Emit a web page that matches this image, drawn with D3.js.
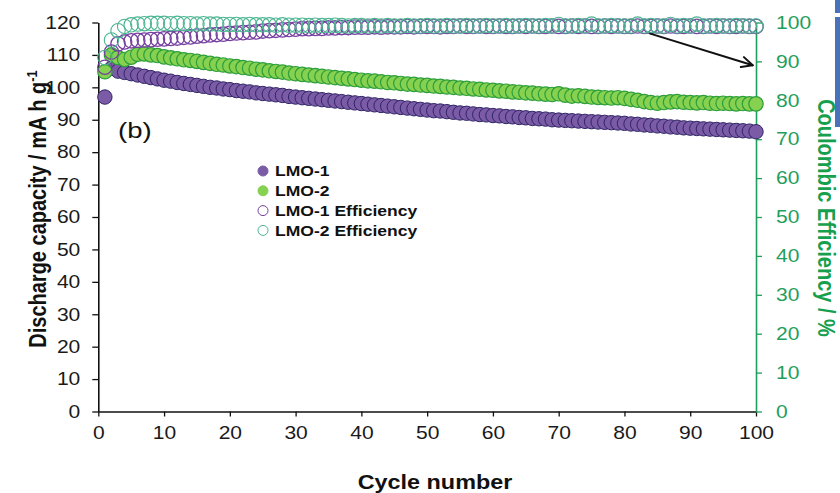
<!DOCTYPE html>
<html>
<head>
<meta charset="utf-8">
<script src="https://cdn.jsdelivr.net/npm/d3@7/dist/d3.min.js"></script>
<style>
  html, body { margin: 0; padding: 0; background: #fff; overflow: hidden; }
  svg { display: block; font-family: "Liberation Sans", Arial, sans-serif; }
</style>
</head>
<body>
<div id="chart"></div>
<script>
// discharge capacity, mA h g-1, cycles 1..100
const capLMO1 = [
  97.0, 105.9, 105.0, 104.6, 104.2, 103.8, 103.4, 103.0, 102.6, 102.2,
  101.9, 101.5, 101.2, 100.9, 100.6, 100.3, 100.0, 99.8, 99.5, 99.3,
  99.0, 98.8, 98.6, 98.3, 98.1, 97.9, 97.7, 97.5, 97.2, 97.0,
  96.8, 96.6, 96.4, 96.2, 96.0, 95.8, 95.6, 95.4, 95.2, 95.0,
  94.8, 94.6, 94.4, 94.2, 94.0, 93.8, 93.6, 93.4, 93.2, 93.0,
  92.8, 92.7, 92.5, 92.3, 92.1, 92.0, 91.8, 91.6, 91.5, 91.3,
  91.2, 91.0, 90.9, 90.7, 90.6, 90.4, 90.3, 90.2, 90.0, 89.9,
  89.8, 89.7, 89.6, 89.5, 89.4, 89.3, 89.2, 89.1, 89.0, 88.9,
  88.7, 88.6, 88.4, 88.3, 88.1, 88.0, 87.8, 87.7, 87.5, 87.4,
  87.3, 87.2, 87.1, 87.0, 86.9, 86.8, 86.7, 86.6, 86.5, 86.3
];
const capLMO2 = [
  104.8, 110.0, 109.2, 108.6, 109.3, 110.2, 110.3, 110.0, 109.8, 109.4,
  109.1, 108.8, 108.5, 108.3, 108.0, 107.7, 107.4, 107.1, 106.9, 106.6,
  106.4, 106.1, 105.9, 105.6, 105.4, 105.1, 104.9, 104.7, 104.4, 104.2,
  104.0, 103.8, 103.6, 103.4, 103.2, 103.0, 102.8, 102.6, 102.4, 102.2,
  102.0, 101.9, 101.7, 101.5, 101.4, 101.2, 101.0, 100.9, 100.7, 100.6,
  100.4, 100.3, 100.1, 100.0, 99.8, 99.7, 99.5, 99.4, 99.2, 99.1,
  98.9, 98.8, 98.6, 98.5, 98.3, 98.2, 98.0, 97.9, 97.8, 98.0,
  97.6, 97.3, 97.4, 97.2, 97.0, 96.9, 96.8, 96.7, 96.8, 96.6,
  96.3, 96.0, 95.6, 95.3, 95.1, 95.3, 95.5, 95.6, 95.4, 95.3,
  95.2, 95.3, 95.1, 95.0, 95.1, 95.0, 94.9, 95.0, 94.9, 94.9
];
// coulombic efficiency, %
const effLMO1 = [
  88.5, 92.4, 94.5, 95.0, 95.3, 95.4, 95.5, 95.6, 95.7, 95.8,
  95.9, 96.0, 96.2, 96.3, 96.5, 96.6, 96.8, 96.9, 97.0, 97.2,
  97.3, 97.4, 97.5, 97.6, 97.8, 97.9, 98.0, 98.1, 98.2, 98.3,
  98.4, 98.4, 98.5, 98.5, 98.6, 98.6, 98.7, 98.7, 98.8, 98.8,
  98.8, 98.9, 98.8, 98.9, 98.9, 98.9, 99.0, 98.9, 99.0, 99.0,
  99.0, 98.9, 99.0, 99.0, 99.1, 99.0, 99.0, 99.1, 99.0, 99.0,
  99.1, 99.0, 99.0, 99.1, 99.0, 99.1, 99.0, 99.0, 99.1, 99.0,
  99.0, 99.1, 99.0, 99.1, 99.0, 99.0, 99.1, 99.0, 99.1, 99.0,
  99.0, 99.1, 99.0, 99.0, 99.1, 99.0, 99.1, 99.0, 99.0, 99.1,
  99.0, 99.0, 99.1, 99.0, 99.1, 99.0, 99.0, 99.1, 99.0, 99.0
];
const effLMO2 = [
  91.0, 95.5, 97.9, 99.0, 99.4, 99.6, 99.7, 99.8, 99.8, 99.8,
  99.7, 99.8, 99.7, 99.7, 99.6, 99.7, 99.6, 99.6, 99.5, 99.5,
  99.5, 99.4, 99.5, 99.4, 99.4, 99.4, 99.3, 99.4, 99.3, 99.3,
  99.3, 99.2, 99.3, 99.2, 99.2, 99.3, 99.2, 99.1, 99.2, 99.2,
  99.1, 99.2, 99.1, 99.2, 99.1, 99.1, 99.2, 99.1, 99.1, 99.2,
  99.1, 99.1, 99.2, 99.1, 99.1, 99.2, 99.1, 99.1, 99.2, 99.1,
  99.1, 99.2, 99.1, 99.1, 99.2, 99.1, 99.1, 99.2, 99.1, 99.5,
  99.1, 99.1, 99.2, 99.1, 99.6, 99.1, 99.1, 99.2, 99.1, 99.1,
  99.1, 99.6, 99.1, 99.2, 99.1, 99.1, 99.5, 99.1, 99.2, 99.1,
  99.6, 99.1, 99.1, 99.2, 99.1, 99.1, 99.2, 99.1, 99.1, 99.1
];
const cycles = d3.range(1, capLMO1.length + 1);
const xTicks = [0, 10, 20, 30, 40, 50, 60, 70, 80, 90, 100];
const yTicks = [0, 10, 20, 30, 40, 50, 60, 70, 80, 90, 100, 110, 120];
const y2Ticks = [0, 10, 20, 30, 40, 50, 60, 70, 80, 90, 100];
const legendLabels = ['LMO-1', 'LMO-2', 'LMO-1 Efficiency', 'LMO-2 Efficiency'];

const W = 840, H = 493;
const m = { t: 22.5, r: 84, b: 81.5, l: 98.3 };
const innerW = W - m.l - m.r;
const innerH = H - m.t - m.b;
const SX = 1.17; // the source picture is stretched horizontally
const green = '#1f9e5c';

const svg = d3.select('#chart').append('svg').attr('width', W).attr('height', H);

// slide edge artefact at top right
svg.append('rect').attr('x', 835).attr('y', 0).attr('width', 5).attr('height', 13)
  .style('fill', '#4a72b8');
svg.append('rect').attr('x', 835).attr('y', 17).attr('width', 5).attr('height', 110)
  .style('fill', '#4a72b8');

const g = svg.append('g').attr('transform', `translate(${m.l},${m.t})`);

const x = d3.scaleLinear().domain([0, 100]).range([0, innerW]);
const y = d3.scaleLinear().domain([0, 120]).range([innerH, 0]);
const y2 = d3.scaleLinear().domain([0, 100]).range([innerH, 0]);

function stretch(sel, fill) {
  sel.selectAll('.tick text').each(function () {
    const t = d3.select(this);
    t.attr('x', (+t.attr('x') || 0) / SX).attr('transform', `scale(${SX},1)`)
      .attr('font-size', 18).attr('font-family', '"Liberation Sans", Arial, sans-serif')
      .attr('fill', fill);
  });
}

const gx = g.append('g').attr('transform', `translate(0,${innerH})`)
  .call(d3.axisBottom(x).tickValues(xTicks).tickSizeInner(5).tickSizeOuter(0).tickPadding(10));
const gy = g.append('g')
  .call(d3.axisLeft(y).tickValues(yTicks).tickSizeInner(6).tickSizeOuter(0).tickPadding(12));
const gy2 = g.append('g').attr('transform', `translate(${innerW},0)`)
  .call(d3.axisRight(y2).tickValues(y2Ticks).tickSizeInner(6).tickSizeOuter(0).tickPadding(14));

[gx, gy].forEach(a => {
  a.select('.domain').attr('stroke', '#111').attr('stroke-width', 1.6);
  a.selectAll('.tick line').attr('stroke', '#111').attr('stroke-width', 1.3);
  stretch(a, '#1a1a1a');
});
gy2.select('.domain').attr('stroke', green).attr('stroke-width', 1.6);
gy2.selectAll('.tick line').attr('stroke', green).attr('stroke-width', 1.3);
stretch(gy2, green);

// series, drawn in the same order as the source
const series = [
  { vals: capLMO1, sc: y, fill: '#7b5aa6', stroke: '#2f2566', sw: 1 },
  { vals: capLMO2, sc: y, fill: '#86d14f', stroke: '#2c9e3a', sw: 1.2 },
  { vals: effLMO1, sc: y2, fill: 'none', stroke: '#7640a0', sw: 1.3 },
  { vals: effLMO2, sc: y2, fill: 'none', stroke: '#4db592', sw: 1.1 }
];
series.forEach(s => {
  g.append('g').selectAll('circle')
    .data(cycles)
    .enter()
    .append('circle')
    .attr('cx', c => x(c))
    .attr('cy', c => s.sc(s.vals[c - 1]))
    .attr('r', 7.2)
    .attr('fill', s.fill)
    .attr('stroke', s.stroke)
    .attr('stroke-width', s.sw);
});

// arrow toward the efficiency axis
const a0 = [x(83.8), y2(97.2)], a1 = [x(99.5), y2(89.0)];
g.append('line').attr('x1', a0[0]).attr('y1', a0[1]).attr('x2', a1[0]).attr('y2', a1[1])
  .attr('stroke', '#111').attr('stroke-width', 2);
const ang = Math.atan2(a1[1] - a0[1], a1[0] - a0[0]);
[0.45, -0.45].forEach(d => {
  g.append('line').attr('x1', a1[0]).attr('y1', a1[1])
    .attr('x2', a1[0] - 12 * Math.cos(ang + d)).attr('y2', a1[1] - 12 * Math.sin(ang + d))
    .attr('stroke', '#111').attr('stroke-width', 2).attr('stroke-linecap', 'round');
});

// legend
const lg = svg.append('g').attr('transform', 'translate(263,171)');
legendLabels.forEach((lab, i) => {
  const s = series[i];
  const row = lg.append('g').attr('transform', `translate(0,${i * 19.8})`);
  row.append('circle').attr('r', 5).attr('fill', s.fill)
    .attr('stroke', s.fill === 'none' ? s.stroke : s.fill).attr('stroke-width', 1);
  row.append('text').attr('x', 12 / SX).attr('dy', '0.36em').attr('transform', `scale(${SX},1)`)
    .attr('font-size', 15).attr('font-weight', 'bold').attr('fill', '#111').text(lab);
});

// panel label
svg.append('text').attr('transform', `translate(118,137.5) scale(1.25,1)`)
  .attr('font-size', 22).attr('fill', '#111').text('(b)');

// axis titles
svg.append('text').attr('transform', `translate(435,489) scale(${SX},1)`)
  .attr('text-anchor', 'middle').attr('font-size', 20).attr('font-weight', 'bold')
  .attr('fill', '#111').text('Cycle number');

const yt = svg.append('text').attr('transform', `translate(46,209) scale(${SX},1) rotate(-90)`)
  .attr('text-anchor', 'middle').attr('font-size', 20).attr('font-weight', 'bold').attr('fill', '#111');
yt.append('tspan').text('Discharge capacity / mA h g');
yt.append('tspan').attr('font-size', 13).attr('dy', -8).text('-1');

svg.append('text').attr('transform', `translate(818,218) scale(${SX},1) rotate(90)`)
  .attr('text-anchor', 'middle').attr('font-size', 20).attr('font-weight', 'bold')
  .attr('fill', '#16a04e').text('Coulombic Efficiency / %');
</script>
</body>
</html>
